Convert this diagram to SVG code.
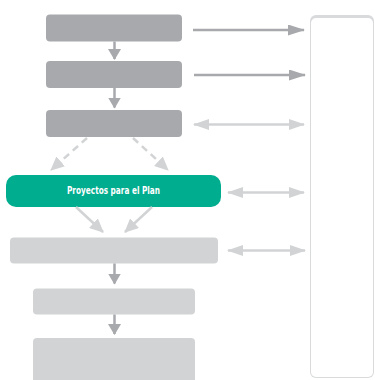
<svg xmlns="http://www.w3.org/2000/svg" width="375" height="380" viewBox="0 0 375 380">
<style>
.dk{fill:#a7a9ac}
.lt{fill:#d1d3d4}
.cd{stroke:#a7a9ac;stroke-width:2.5;fill:none}
.cl{stroke:#d1d3d4;stroke-width:2.5;fill:none}
.ds{stroke-dasharray:7 5}
.lbl{font-family:"Liberation Sans Narrow","DejaVu Sans Condensed","Liberation Sans",sans-serif;font-size:10.5px;font-weight:bold;fill:#ffffff}
</style>
<defs>
<marker id="hd" markerUnits="userSpaceOnUse" markerWidth="17" markerHeight="11" viewBox="0 0 17 11" refX="16" refY="5.5" orient="auto"><path d="M0,0 L17,5.5 L0,11 z" fill="#a7a9ac"/></marker>
<marker id="vd" markerUnits="userSpaceOnUse" markerWidth="11" markerHeight="13" viewBox="0 0 11 13" refX="10" refY="6.5" orient="auto"><path d="M0,0 L11,6.5 L0,13 z" fill="#a7a9ac"/></marker>
<marker id="hl" markerUnits="userSpaceOnUse" markerWidth="16" markerHeight="11" viewBox="0 0 16 11" refX="15" refY="5.5" orient="auto-start-reverse"><path d="M0,0 L16,5.5 L0,11 z" fill="#d1d3d4"/></marker>
<marker id="gl" markerUnits="userSpaceOnUse" markerWidth="14" markerHeight="13" viewBox="0 0 14 13" refX="13" refY="6.5" orient="auto"><path d="M0,0 L14,6.5 L0,13 z" fill="#d1d3d4"/></marker>
</defs>
<g id="panel">
<rect x="310" y="15" width="64" height="363" rx="6" fill="#d9dadc"/>
<rect x="311" y="18" width="62" height="359" rx="5" fill="#ffffff"/>
</g>
<g id="n1"><rect class="dk" x="46" y="14.5" width="136" height="27" rx="4"/></g>
<g id="n2"><rect class="dk" x="46" y="61" width="136" height="27" rx="4"/></g>
<g id="n3"><rect class="dk" x="46" y="110" width="136" height="27" rx="4"/></g>
<g id="n4"><rect x="6" y="175" width="215" height="32" rx="10" fill="#00ad8f"/>
<text class="lbl" x="113.5" y="194" text-anchor="middle" textLength="93" lengthAdjust="spacingAndGlyphs">Proyectos para el Plan</text></g>
<g id="n5"><rect class="lt" x="10" y="237.5" width="208" height="26" rx="4"/></g>
<g id="n6"><rect class="lt" x="33" y="288.5" width="162" height="26" rx="4"/></g>
<g id="n7"><rect class="lt" x="33" y="338" width="162" height="50" rx="4"/></g>
<g id="connectors">
<line class="cd" x1="114.5" y1="41.5" x2="114.5" y2="59" marker-end="url(#vd)"/>
<line class="cd" x1="114.5" y1="88" x2="114.5" y2="107.5" marker-end="url(#vd)"/>
<line class="cl ds" x1="87" y1="138" x2="51" y2="170" marker-end="url(#gl)"/>
<line class="cl ds" x1="133" y1="138" x2="168" y2="170" marker-end="url(#gl)"/>
<line class="cl" x1="76" y1="207" x2="103" y2="232" marker-end="url(#gl)"/>
<line class="cl" x1="152" y1="207" x2="125" y2="232" marker-end="url(#gl)"/>
<line class="cd" x1="114.5" y1="263.5" x2="114.5" y2="283.5" marker-end="url(#vd)"/>
<line class="cd" x1="114.5" y1="314.5" x2="114.5" y2="334" marker-end="url(#vd)"/>
<line class="cd" x1="193" y1="30" x2="304" y2="30" marker-end="url(#hd)"/>
<line class="cd" x1="194" y1="75" x2="305" y2="75" marker-end="url(#hd)"/>
<line class="cl" x1="194" y1="124.5" x2="304" y2="124.5" marker-start="url(#hl)" marker-end="url(#hl)"/>
<line class="cl" x1="228" y1="192.5" x2="304" y2="192.5" marker-start="url(#hl)" marker-end="url(#hl)"/>
<line class="cl" x1="228" y1="250.5" x2="305" y2="250.5" marker-start="url(#hl)" marker-end="url(#hl)"/>
</g>
</svg>
